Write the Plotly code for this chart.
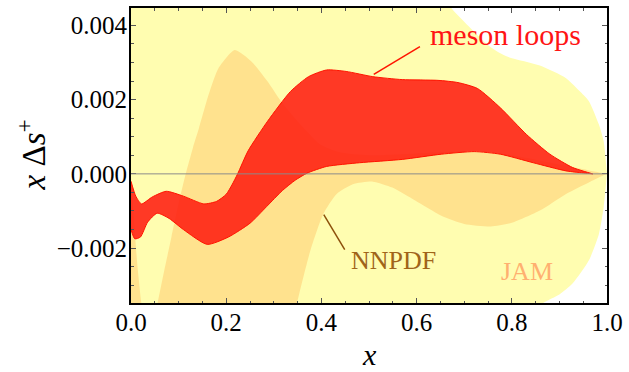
import plotly.graph_objects as go

# JAM band (light yellow)
jam_x_hi = [0.0, 0.3, 0.6, 0.65, 0.673, 0.714, 0.755, 0.79, 0.859, 0.914, 0.945, 0.962, 0.983, 0.993, 1.0]
jam_hi = [0.0065, 0.0065, 0.0058, 0.0050, 0.00447, 0.00392, 0.00342, 0.00316, 0.00292, 0.00258, 0.0022, 0.00196, 0.00133, 0.00088, 0.0]
jam_x_lo = [0.0, 0.4, 0.8, 0.866, 0.9, 0.928, 0.962, 0.983, 0.993, 1.0]
jam_lo = [-0.0065, -0.0065, -0.0042, -0.00348, -0.00325, -0.00295, -0.00233, -0.00162, -0.0009, 0.0]

# NNPDF band (orange)
nn_x_hi = [0.0, 0.006, 0.013, 0.022, 0.032, 0.044, 0.056, 0.07, 0.085, 0.1, 0.115, 0.13, 0.143,
           0.163, 0.184, 0.218, 0.253, 0.287, 0.315, 0.356, 0.397, 0.439, 0.5, 0.6, 0.7, 0.8,
           0.9, 0.96, 1.0]
nn_hi = [-0.0001, -0.0012, -0.0024, -0.0035, -0.0044, -0.0043, -0.00348, -0.0026, -0.0017, -0.0008,
         0.0, 0.0007, 0.00124, 0.00213, 0.00285, 0.00334, 0.00303, 0.00249, 0.00196, 0.00133,
         0.0008, 0.00058, 0.0005, 0.00055, 0.0006, 0.0005, 0.00025, 0.0001, 0.0]
nn_x_lo = [0.0, 0.2, 0.33, 0.349, 0.377, 0.404, 0.432, 0.466, 0.508, 0.549, 0.597, 0.652, 0.70,
           0.756, 0.80, 0.859, 0.914, 0.962, 1.0]
nn_lo = [-0.007, -0.007, -0.0047, -0.00348, -0.00206, -0.00108, -0.00054, -0.00028, -0.00021,
         -0.00037, -0.00072, -0.00113, -0.00135, -0.00142, -0.00132, -0.00099, -0.00054, -0.00023, 0.0]

# meson loop band (red)
ml_x_hi = [0.0, 0.01, 0.022, 0.045, 0.074, 0.11, 0.153, 0.18, 0.2, 0.212, 0.224, 0.246, 0.287,
           0.335, 0.373, 0.411, 0.452, 0.508, 0.57, 0.645, 0.687, 0.728, 0.776, 0.831, 0.88,
           0.928, 0.97]
ml_hi = [-0.0002, -0.0006, -0.00081, -0.00062, -0.00047, -0.0006, -0.00081, -0.00074, -0.00055,
         -0.0003, 0.0, 0.00062, 0.00142, 0.00222, 0.00262, 0.0028, 0.00276, 0.00262, 0.00254,
         0.00252, 0.00246, 0.0023, 0.00178, 0.00106, 0.00053, 0.00017, 0.0]
ml_x_lo = [0.0, 0.008, 0.02, 0.035, 0.055, 0.08, 0.11, 0.16, 0.205, 0.25, 0.285, 0.318, 0.345,
           0.37, 0.411, 0.48, 0.57, 0.652, 0.721, 0.776, 0.845, 0.914, 0.97]
ml_lo = [-0.0015, -0.00175, -0.0017, -0.0013, -0.00106, -0.0012, -0.0015, -0.0019, -0.0017,
         -0.00133, -0.00088, -0.00045, -0.00017, 0.00002, 0.0002, 0.0003, 0.00039, 0.00053,
         0.0006, 0.00053, 0.0003, 0.00008, 0.0]

x_ticks = [0.0, 0.2, 0.4, 0.6, 0.8, 1.0]
x_tick_text = ["0.0", "0.2", "0.4", "0.6", "0.8", "1.0"]
y_ticks = [-0.002, 0.0, 0.002, 0.004]
y_tick_text = ["\u22120.002", "0.000", "0.002", "0.004"]

SERIF = "Liberation Serif, Times New Roman, serif"
TICK_FONT = dict(family=SERIF, size=25, color="black")


def band(xh, yh, xl, yl, fill, line_color=None, line_width=0):
    xs = list(xh) + list(reversed(xl))
    ys = list(yh) + list(reversed(yl))
    return go.Scatter(
        x=xs, y=ys, mode="lines", fill="toself", fillcolor=fill,
        line=dict(color=line_color or "rgba(0,0,0,0)", width=line_width,
                  shape="spline", smoothing=0.6),
        hoverinfo="skip", showlegend=False,
    )


fig = go.Figure()
fig.add_trace(band(jam_x_hi, jam_hi, jam_x_lo, jam_lo, "rgb(255,253,176)"))
fig.add_trace(band(nn_x_hi, nn_hi, nn_x_lo, nn_lo, "rgb(255,226,142)"))
fig.add_trace(band(ml_x_hi, ml_hi, ml_x_lo, ml_lo, "rgba(255,28,16,0.87)", "rgb(255,20,0)", 1))

axis_common = dict(
    showline=True, linecolor="black", linewidth=2, mirror="allticks",
    ticks="inside", ticklen=5, tickwidth=1, tickcolor="#555",
    showgrid=False, zeroline=False, ticklabeloverflow="allow",
)

fig.update_xaxes(range=[0, 1], tickmode="array", tickvals=x_ticks, ticktext=x_tick_text,
                 tickfont=TICK_FONT, ticklabelstandoff=-4,
                 minor=dict(dtick=0.05, tick0=0, ticks="inside", ticklen=2.5, tickcolor="#555"),
                 **axis_common)
fig.update_yaxes(range=[-0.00348, 0.00447], tickmode="array", tickvals=y_ticks, ticktext=y_tick_text,
                 tickfont=TICK_FONT, ticklabelstandoff=-3,
                 minor=dict(dtick=0.0005, tick0=0, ticks="inside", ticklen=2.5, tickcolor="#555"),
                 **axis_common)

# horizontal reference line at zero
fig.add_shape(type="line", xref="paper", x0=0, x1=1, yref="y", y0=0, y1=0,
              line=dict(color="#8c8c8c", width=1))

# leader lines for the labels
fig.add_shape(type="line", x0=0.607, y0=0.00343, x1=0.510, y1=0.00268,
              line=dict(color="rgb(255,20,0)", width=1.5))
fig.add_shape(type="line", x0=0.405, y0=-0.00110, x1=0.449, y1=-0.00204,
              line=dict(color="rgb(140,80,10)", width=1.5))

fig.add_annotation(x=0.786, y=0.00375, text="meson loops", showarrow=False,
                   font=dict(family=SERIF, size=30, color="rgb(255,20,20)"))
fig.add_annotation(x=0.551, y=-0.00233, text="NNPDF", showarrow=False,
                   font=dict(family=SERIF, size=26, color="rgb(160,100,25)"))
fig.add_annotation(x=0.832, y=-0.00262, text="JAM", showarrow=False,
                   font=dict(family=SERIF, size=26, color="rgb(255,176,112)"))

# axis titles
fig.add_annotation(xref="paper", yref="paper", x=0.5, y=0, yshift=-51, xanchor="center",
                   yanchor="middle", text="<i>x</i>",
                   showarrow=False, font=dict(family=SERIF, size=30, color="black"))
fig.add_annotation(xref="paper", yref="paper", x=0, y=0.5, xshift=-100, xanchor="center",
                   yanchor="middle", textangle=-90,
                   text="<i>x</i> Δ<i>s</i><sup>+</sup>", showarrow=False,
                   font=dict(family=SERIF, size=33, color="black"))

fig.update_layout(
    width=629, height=372,
    margin=dict(l=131, r=14, t=6, b=69),
    paper_bgcolor="white", plot_bgcolor="white",
    font=dict(family=SERIF, color="black"),
    showlegend=False,
)

fig.write_html("out.html")
